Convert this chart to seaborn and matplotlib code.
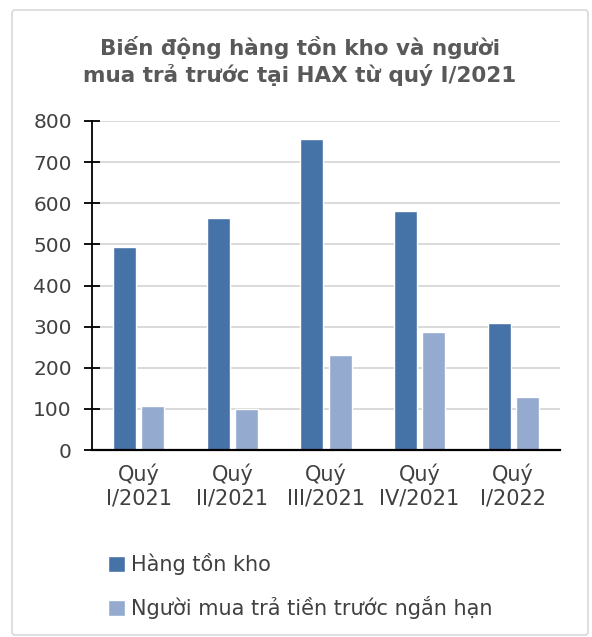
import pandas as pd
import seaborn as sns
import matplotlib.pyplot as plt
from matplotlib.patches import FancyBboxPatch

quarters = ["Quý\nI/2021", "Quý\nII/2021", "Quý\nIII/2021", "Quý\nIV/2021", "Quý\nI/2022"]
series = ["Hàng tồn kho", "Người mua trả tiền trước ngắn hạn"]
ton_kho = [494, 564, 756, 581, 309]
tra_truoc = [107, 99, 231, 286, 129]
colors = ["#4673a7", "#95aacf"]

df = pd.DataFrame({
    "quy": quarters * 2,
    "loai": [series[0]] * 5 + [series[1]] * 5,
    "gia_tri": ton_kho + tra_truoc,
})

sns.set_style("white")
plt.rcParams["font.family"] = ["DejaVu Sans"]

fig = plt.figure(figsize=[5.92, 6.37], dpi=100)
ax = fig.add_axes([92 / 592, 1 - 450 / 637, 468 / 592, 329 / 637])

sns.barplot(data=df, x="quy", y="gia_tri", hue="loai", palette=colors,
            width=0.6, gap=0.18, ax=ax, legend=True, saturation=1)

ax.set_ylim(0, 800)
ax.set_yticks(range(0, 801, 100))
ax.set_xlim(-0.5, 4.5)
ax.set_xlabel("")
ax.set_ylabel("")
ax.yaxis.grid(True, color="#d9d9d9", linewidth=1.4)
ax.set_axisbelow(True)
for s in ["top", "right"]:
    ax.spines[s].set_visible(False)
ax.spines["left"].set_color("black")
ax.spines["bottom"].set_color("black")
ax.spines["left"].set_linewidth(1.3)
ax.spines["bottom"].set_linewidth(1.6)
ax.tick_params(axis="y", direction="inout", length=11, width=1.3, color="black",
               labelsize=14.5, labelcolor="#404040", pad=9, left=True)
ax.tick_params(axis="x", length=0, labelsize=15, labelcolor="#404040", pad=10)

handles, labels = ax.get_legend_handles_labels()
ax.legend(handles, labels, loc="upper left", bbox_to_anchor=(108 / 592, 1 - 553 / 637),
          bbox_transform=fig.transFigure, frameon=False, fontsize=15,
          labelcolor="#404040", handlelength=0.8, handleheight=0.8,
          handletextpad=0.3, labelspacing=1.0, borderaxespad=0, borderpad=0)

fig.text(300 / 592, 1 - 61 / 637, "Biến động hàng tồn kho và người\nmua trả trước tại HAX từ quý I/2021",
         ha="center", va="center", fontsize=15.5, fontweight="bold", color="#595959",
         linespacing=1.3)

fig.patches.append(FancyBboxPatch((12 / 592, 2 / 637), 576 / 592, 625 / 637,
                                  boxstyle="round,pad=0,rounding_size=0.005",
                                  transform=fig.transFigure, fill=False,
                                  edgecolor="#d9d9d9", linewidth=1.2))

fig.savefig("out.png", dpi=100)
